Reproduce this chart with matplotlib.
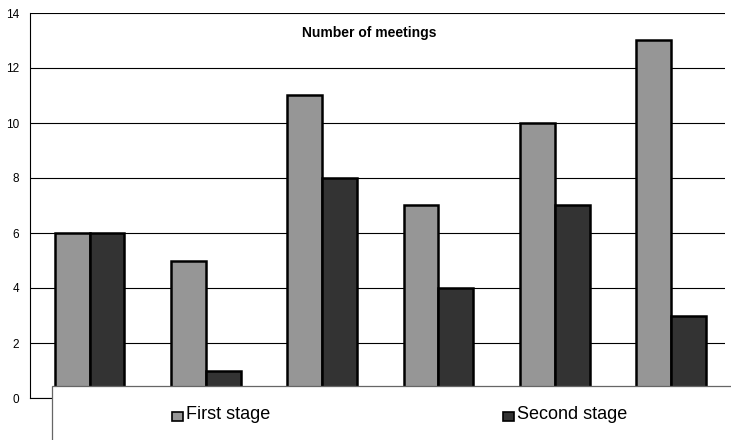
import numpy as np
import matplotlib.pyplot as plt
from matplotlib.patches import Rectangle

plt.rcParams['font.family'] = ['Liberation Sans', 'DejaVu Sans']

# values
groups = ['1', '2', '3', '4', '5', '6']
first_stage = [6, 5, 11, 7, 10, 13]
second_stage = [6, 1, 8, 4, 7, 3]
series_names = ['First stage', 'Second stage']
light_grey = '#969696'
dark_grey = '#333333'

fig = plt.figure(figsize=(7.31, 4.40), dpi=100)
ax = fig.add_axes([30 / 731, 42 / 440, 695 / 731, 385 / 440])

x = np.arange(len(groups))
w = 0.3
ax.bar(x - w / 2, first_stage, w, color=light_grey, edgecolor='black', linewidth=1.8, zorder=3)
ax.bar(x + w / 2, second_stage, w, color=dark_grey, edgecolor='black', linewidth=1.8, zorder=3)

ax.set_xlim(-0.512, 5.464)
ax.set_ylim(0, 14)
ax.set_yticks(range(0, 15, 2))
ax.yaxis.grid(True, color='black', linewidth=0.8, zorder=0)
ax.tick_params(axis='y', length=0, labelsize=8.5, pad=8)
ax.set_xticks([])
for s in ['top', 'right']:
    ax.spines[s].set_visible(False)
ax.spines['left'].set_linewidth(0.8)
ax.spines['bottom'].set_linewidth(0.8)

fig.text(302 / 731, 1 - 33 / 440, 'Number of meetings', ha='left', va='center',
         fontsize=10, fontweight='bold')

# legend panel covering the bottom of the plot
fig.patches.append(Rectangle((52 / 731, -0.01), 1.0, 0.01 + 54 / 440, transform=fig.transFigure,
                             facecolor='white', edgecolor='#666666', linewidth=0.9, zorder=5))
marker_x = [172, 503]
for name, col, mx in zip(series_names, [light_grey, dark_grey], marker_x):
    fig.patches.append(Rectangle((mx / 731, 19 / 440), 11 / 731, 9 / 440, transform=fig.transFigure,
                                 facecolor=col, edgecolor='black', linewidth=1.2, zorder=6))
    fig.text((mx + 14) / 731, 21 / 440, name, ha='left', va='baseline', fontsize=13, zorder=6)

fig.savefig('out.png', dpi=100)
